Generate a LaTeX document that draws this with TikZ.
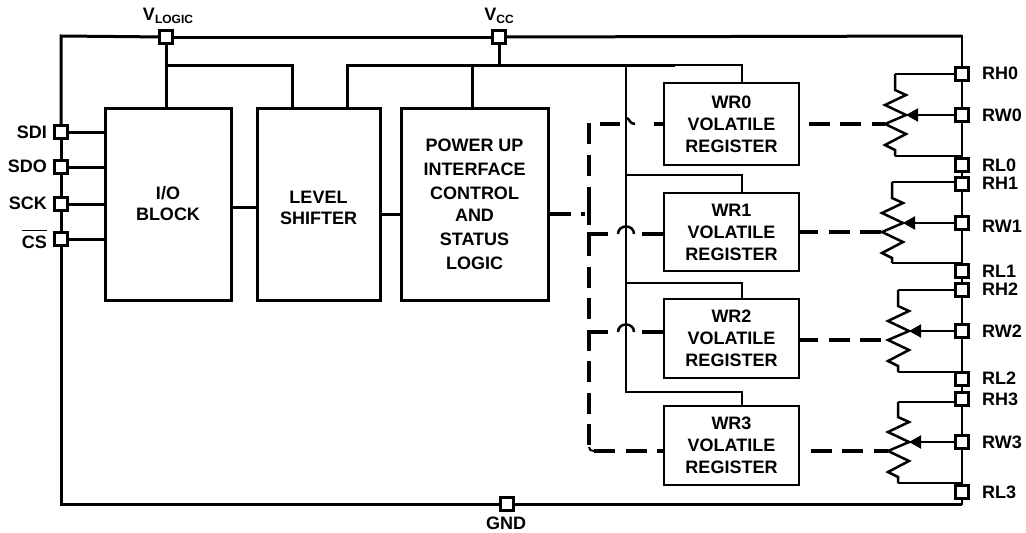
\documentclass[tikz,border=0pt]{standalone}
\usepackage{fontspec}
\setmainfont{Liberation Sans}
\usetikzlibrary{arrows.meta}

% one resistor: #1 lead x, #2 wiper y, #3 top lead y, #4 bottom lead y, #5 name
\newcommand{\drawpot}[5]{
  \coordinate (#5top) at (#1,#3);
  \coordinate (#5bot) at (#1,#4);
  \coordinate (#5tip) at (#1+11,#2);
  \coordinate (#5in)  at (#1-10,#2+9);
  \draw [line width=2.5pt, line join=miter] (#5top) -- (#1,#2-25) -- (#1+11,#2-20) -- (#1-10,#2-10)
        -- (#5tip) -- (#5in) -- (#1+11,#2+19) -- (#1-10,#2+30) -- (#1,#2+35) -- (#5bot);
}

\begin{document}
\begin{tikzpicture}[
    x=1pt, y=-1pt,
    >={Triangle[length=12pt,width=13pt]},
    wire/.style={line width=3pt},
    thinwire/.style={line width=2pt},
    jumpwire/.style={line width=2.5pt},
    dashwire/.style={line width=4pt, dash pattern=on 21pt off 10.5pt},
    pad/.style={rectangle, draw, fill=white, line width=3pt, inner sep=0pt, minimum size=12.5pt},
    block/.style={rectangle, draw, line width=3pt, align=center, minimum height=192pt,
                  font=\fontsize{18}{24}\selectfont\bfseries},
    regbox/.style={rectangle, draw, line width=2pt, align=center, minimum width=135pt,
                   font=\fontsize{18}{22}\selectfont\bfseries},
    lab/.style={inner sep=0pt, font=\fontsize{18}{21}\selectfont\bfseries},
]
  \useasboundingbox (0,0) rectangle (1026,533);

  \coordinate (tl) at (61,36);
  \coordinate (tr) at (962,36);
  \coordinate (bl) at (61,504);
  \coordinate (br) at (962,504);

  % pins
  \node [pad] (vlogic) at (166,37)  {};
  \node [pad] (vcc)    at (499,37)  {};
  \node [pad] (gnd)    at (507,504) {};
  \node [pad] (sdi)    at (61,132)  {};
  \node [pad] (sdo)    at (61,167)  {};
  \node [pad] (sck)    at (61,204)  {};
  \node [pad] (cs)     at (61,239)  {};
  \node [pad] (rh0)    at (962,74)  {};
  \node [pad] (rw0)    at (962,115) {};
  \node [pad] (rl0)    at (962,165) {};
  \node [pad] (rh1)    at (962,184) {};
  \node [pad] (rw1)    at (962,223) {};
  \node [pad] (rl1)    at (962,271) {};
  \node [pad] (rh2)    at (962,290) {};
  \node [pad] (rw2)    at (962,331) {};
  \node [pad] (rl2)    at (962,379) {};
  \node [pad] (rh3)    at (962,399) {};
  \node [pad] (rw3)    at (962,442) {};
  \node [pad] (rl3)    at (962,492) {};

  % blocks
  \node [block, minimum width=126pt] (iob) at (168,204)   {I/O\\[-3pt]BLOCK};
  \node [block, minimum width=123pt] (lvl) at (318.5,204) {};
  \node [lab, align=center, font=\fontsize{18}{21}\selectfont\bfseries] (lvltxt) at (318.5,207.5) {LEVEL\\SHIFTER};
  \node [block, minimum width=147pt] (ctl) at (474.5,204) {POWER UP\\INTERFACE\\CONTROL\\[-2pt]AND\\STATUS\\LOGIC};
  \node [regbox, minimum height=82pt] (wr0) at (731.5,124)   {WR0\\VOLATILE\\REGISTER};
  \node [regbox, minimum height=78pt] (wr1) at (731.5,232)   {WR1\\VOLATILE\\REGISTER};
  \node [regbox, minimum height=79pt] (wr2) at (731.5,338.5) {WR2\\VOLATILE\\REGISTER};
  \node [regbox, minimum height=79pt] (wr3) at (731.5,445.5) {WR3\\VOLATILE\\REGISTER};

  % labels
  \node [lab]            (lvlogic) at (168,16)  {V\raisebox{-3pt}{\fontsize{12}{12}\selectfont LOGIC}};
  \node [lab]            (lvcc)    at (499,16)  {V\raisebox{-3pt}{\fontsize{12}{12}\selectfont CC}};
  \node [lab]            (lgnd)    at (506,523) {GND};
  \node [lab, anchor=east] (lsdi)  at (47,132)  {SDI};
  \node [lab, anchor=east] (lsdo)  at (47,166)  {SDO};
  \node [lab, anchor=east] (lsck)  at (47,203)  {SCK};
  \node [lab, anchor=east] (lcs)   at (47,239.5) {\vbox{\hrule height 1.5pt \vskip 5pt \hbox{CS}}};
  \node [lab, anchor=west] (lrh0)  at (982,73)  {RH0};
  \node [lab, anchor=west] (lrw0)  at (982,115) {RW0};
  \node [lab, anchor=west] (lrl0)  at (982,165) {RL0};
  \node [lab, anchor=west] (lrh1)  at (982,183) {RH1};
  \node [lab, anchor=west] (lrw1)  at (982,226) {RW1};
  \node [lab, anchor=west] (lrl1)  at (982,271) {RL1};
  \node [lab, anchor=west] (lrh2)  at (982,289) {RH2};
  \node [lab, anchor=west] (lrw2)  at (982,331) {RW2};
  \node [lab, anchor=west] (lrl2)  at (982,378) {RL2};
  \node [lab, anchor=west] (lrh3)  at (982,399) {RH3};
  \node [lab, anchor=west] (lrw3)  at (982,442) {RW3};
  \node [lab, anchor=west] (lrl3)  at (982,492) {RL3};

  % outer frame
  \draw [wire, line cap=rect] (sdi) -- (tl) -- (vlogic);
  \draw [wire] (vlogic) -- (vcc);
  \draw [wire] (vcc) -- (tr);
  \draw [wire] (sdi) -- (sdo);
  \draw [wire] (sdo) -- (sck);
  \draw [wire] (sck) -- (cs);
  \draw [wire, line cap=rect] (cs) -- (bl) -- (gnd);
  \draw [wire] (gnd) -- (br);
  \draw [thinwire, line cap=rect] (tr) -- (rh0);
  \draw [thinwire] (rh0) -- (rw0);
  \draw [thinwire] (rw0) -- (rl0);
  \draw [thinwire] (rl0) -- (rh1);
  \draw [thinwire] (rh1) -- (rw1);
  \draw [thinwire] (rw1) -- (rl1);
  \draw [thinwire] (rl1) -- (rh2);
  \draw [thinwire] (rh2) -- (rw2);
  \draw [thinwire] (rw2) -- (rl2);
  \draw [thinwire] (rl2) -- (rh3);
  \draw [thinwire] (rh3) -- (rw3);
  \draw [thinwire] (rw3) -- (rl3);
  \draw [thinwire, line cap=rect] (rl3) -- (br);

  % supplies
  \coordinate (vlbus) at (166,65);
  \coordinate (lsbus) at (292,65);
  \coordinate (vcbus) at (347,65);
  \coordinate (vsbus) at (499,65);
  \coordinate (cpbus) at (472,65);
  \coordinate (brbus) at (626,65);
  \coordinate (thbus) at (673,65);
  \coordinate (r0bus) at (742,65);
  \coordinate (r1bus) at (626,175);
  \coordinate (r2bus) at (626,283);
  \coordinate (r3bus) at (626,392);
  \draw [wire] (vlogic) -- (vlogic |- iob.north);
  \draw [wire, line cap=rect] (vlbus) -- (lsbus) -- (lsbus |- lvl.north);
  \draw [wire] (vcc) -- (vsbus);
  \draw [wire] (cpbus) -- (cpbus |- ctl.north);
  \draw [wire, line cap=rect] (vcbus |- lvl.north) -- (vcbus) -- (thbus);
  \draw [thinwire] (thbus) -- (r0bus) -- (r0bus |- wr0.north);
  \draw [thinwire] (brbus) -- (r3bus) -- (r0bus |- r3bus) -- (r0bus |- wr3.north);
  \draw [thinwire] (r1bus) -- (r0bus |- r1bus) -- (r0bus |- wr1.north);
  \draw [thinwire] (r2bus) -- (r0bus |- r2bus) -- (r0bus |- wr2.north);

  % links between blocks
  \draw [wire] (iob.east |- 0,207) -- (lvl.west |- 0,207);
  \draw [wire] (lvl.east |- 0,214) -- (ctl.west |- 0,214);
  \draw [wire] (sdi) -- (iob.west |- sdi);
  \draw [wire] (sdo) -- (iob.west |- sdo);
  \draw [wire] (sck) -- (iob.west |- sck);
  \draw [wire] (cs)  -- (iob.west |- cs);

  % dashed control lines
  \coordinate (dtop) at (589,123);
  \coordinate (dend) at (589,447);
  \coordinate (dbot) at (594,451);
  \coordinate (j1)   at (589,234);
  \coordinate (j2)   at (589,332);
  \coordinate (h0)   at (635,124);
  \coordinate (h0s)  at (626,118);
  \coordinate (h1a)  at (618,234);
  \coordinate (h1b)  at (634,234);
  \coordinate (h2a)  at (618,332);
  \coordinate (h2b)  at (634,332);
  \draw [dashwire] (ctl.east |- 0,214) -- (585,214);
  \draw [dashwire, dash pattern=on 21pt off 10.5pt on 21pt off 11pt on 38pt off 100pt] (dtop) -- (j1);
  \draw [dashwire] (589,235) -- (dend);
  \draw [thinwire] (dend) .. controls (589,450) and (591,451) .. (dbot);
  \draw [dashwire] (dbot) -- (wr3.west |- dbot);
  \draw [dashwire] (620,124) -- (600,124);
  \draw [dashwire, dash phase=12pt] (wr0.west |- h0) -- (644,124);
  \draw [jumpwire] (h0s) .. controls (630,118) and (629,124) .. (h0);
  \draw [dashwire] (587,234) -- (h1a);
  \draw [dashwire] (wr1.west |- j1) -- (h1b);
  \draw [jumpwire] (h1a) .. controls (618,224) and (634,224) .. (h1b);
  \draw [dashwire] (587,332) -- (h2a);
  \draw [dashwire] (wr2.west |- j2) -- (h2b);
  \draw [jumpwire] (h2a) .. controls (618,322) and (634,322) .. (h2b);

  % resistors
  \drawpot{895}{115}{74}{156}{p0}
  \drawpot{892}{223}{182}{263}{p1}
  \drawpot{898}{331}{290}{372}{p2}
  \drawpot{898}{442}{402}{483}{p3}
  \draw [thinwire] (rh0) -- (p0top);
  \draw [thinwire] (rh1.west |- p1top) -- (p1top);
  \draw [thinwire] (rh2) -- (p2top);
  \draw [thinwire] (rh3.west |- p3top) -- (p3top);
  \draw [thinwire] (p0bot) -- (rl0.north |- p0bot);
  \draw [thinwire] (p1bot) -- (rl1.north |- p1bot);
  \draw [thinwire] (p2bot) -- (rl2.north |- p2bot);
  \draw [thinwire] (p3bot) -- (rl3.north |- p3bot);
  \draw [thinwire, ->] (rw0) -- (p0tip);
  \draw [thinwire, ->] (rw1) -- (p1tip);
  \draw [thinwire, ->] (rw2) -- (p2tip);
  \draw [thinwire, ->] (rw3) -- (p3tip);
  \draw [dashwire, dash phase=23pt] (wr0.east |- p0in) -- (p0in);
  \draw [dashwire, dash phase=3pt]  (wr1.east |- p1in) -- (p1in);
  \draw [dashwire, dash phase=3pt]  (wr2.east |- p2in) -- (p2in);
  \draw [dashwire, dash phase=21pt] (wr3.east |- p3in) -- (p3in);
\end{tikzpicture}
\end{document}
